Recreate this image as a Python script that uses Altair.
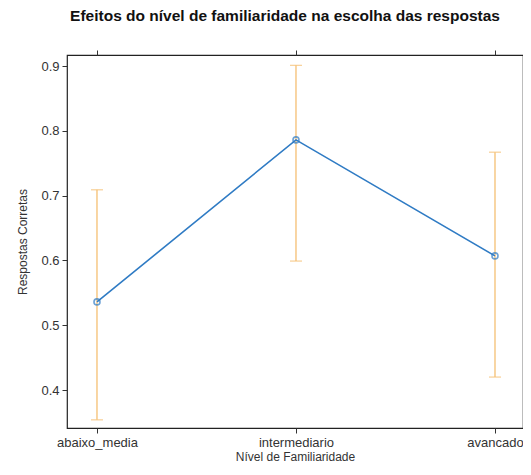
import altair as alt
import pandas as pd

niveis = ["abaixo_media", "intermediario", "avancado"]
ajuste = [0.536, 0.786, 0.607]
inferior = [0.354, 0.599, 0.420]
superior = [0.709, 0.901, 0.767]

df = pd.DataFrame({"nivel": niveis, "fit": ajuste, "lower": inferior, "upper": superior})

FONT = "Liberation Sans"
BLUE = "#2f7bc4"
ORANGE = "#f5bf72"
Y_TICKS = [0.4, 0.5, 0.6, 0.7, 0.8, 0.9]

x_scale = alt.Scale(type="point", domain=niveis, padding=0.1457, align=0.517)
y_scale = alt.Scale(domain=[0.3414, 0.917], nice=False, zero=False)

base = alt.Chart(df)

ax_bottom = alt.Axis(title="Nível de Familiaridade", labelAngle=0, tickSize=5,
                     labelPadding=3, titlePadding=2, orient="bottom")
ax_left = alt.Axis(title="Respostas Corretas", values=Y_TICKS,
                   format=".1f", tickSize=5, labelPadding=3, titlePadding=11, orient="left")

rules = base.mark_rule(color=ORANGE, strokeWidth=1.3).encode(
    x=alt.X("nivel:N", scale=x_scale, sort=niveis, axis=ax_bottom),
    y=alt.Y("lower:Q", scale=y_scale, axis=ax_left),
    y2="upper:Q",
)
cap_lo = base.mark_tick(color=ORANGE, orient="horizontal", size=12, thickness=1.3).encode(
    x=alt.X("nivel:N", scale=x_scale, sort=niveis, axis=None),
    y=alt.Y("lower:Q", scale=y_scale, axis=None),
)
cap_hi = base.mark_tick(color=ORANGE, orient="horizontal", size=12, thickness=1.3).encode(
    x=alt.X("nivel:N", scale=x_scale, sort=niveis, axis=None),
    y=alt.Y("upper:Q", scale=y_scale, axis=None),
)
line = base.mark_line(color=BLUE, strokeWidth=1.6).encode(
    x=alt.X("nivel:N", scale=x_scale, sort=niveis, axis=None),
    y=alt.Y("fit:Q", scale=y_scale, axis=None),
)
pts = base.mark_point(color=BLUE, shape="circle", filled=False, size=36, strokeWidth=1.6).encode(
    x=alt.X("nivel:N", scale=x_scale, sort=niveis, axis=None),
    y=alt.Y("fit:Q", scale=y_scale, axis=None),
)
mirror = base.mark_point(opacity=0).encode(
    x=alt.X("nivel:N", scale=x_scale, sort=niveis,
            axis=alt.Axis(orient="top", labels=False, title=None, tickSize=5)),
    y=alt.Y("fit:Q", scale=y_scale,
            axis=alt.Axis(orient="right", labels=False, title=None, tickSize=5,
                          values=Y_TICKS)),
)

chart = alt.layer(rules, cap_lo, cap_hi, line, pts, mirror).resolve_axis(
    x="independent", y="independent"
).properties(
    width=456,
    height=373,
    title=alt.TitleParams(
        "Efeitos do nível de familiaridade na escolha das respostas",
        font=FONT, fontSize=15.5, fontWeight="bold", color="#111",
        anchor="middle", frame="group", dx=-10, offset=25,
    ),
    autosize=alt.AutoSizeParams(type="none"),
    padding={"left": 59, "top": 47, "right": 0, "bottom": 34},
).configure_view(
    stroke="#222", strokeWidth=1.2
).configure_axis(
    domain=False, grid=False, tickColor="#333", tickWidth=1,
    labelFont=FONT, labelFontSize=13, labelColor="#333",
    titleFont=FONT, titleFontSize=12, titleFontWeight="normal", titleColor="#333",
)

chart.save("out.html", embed_options={"renderer": "svg", "actions": False})
